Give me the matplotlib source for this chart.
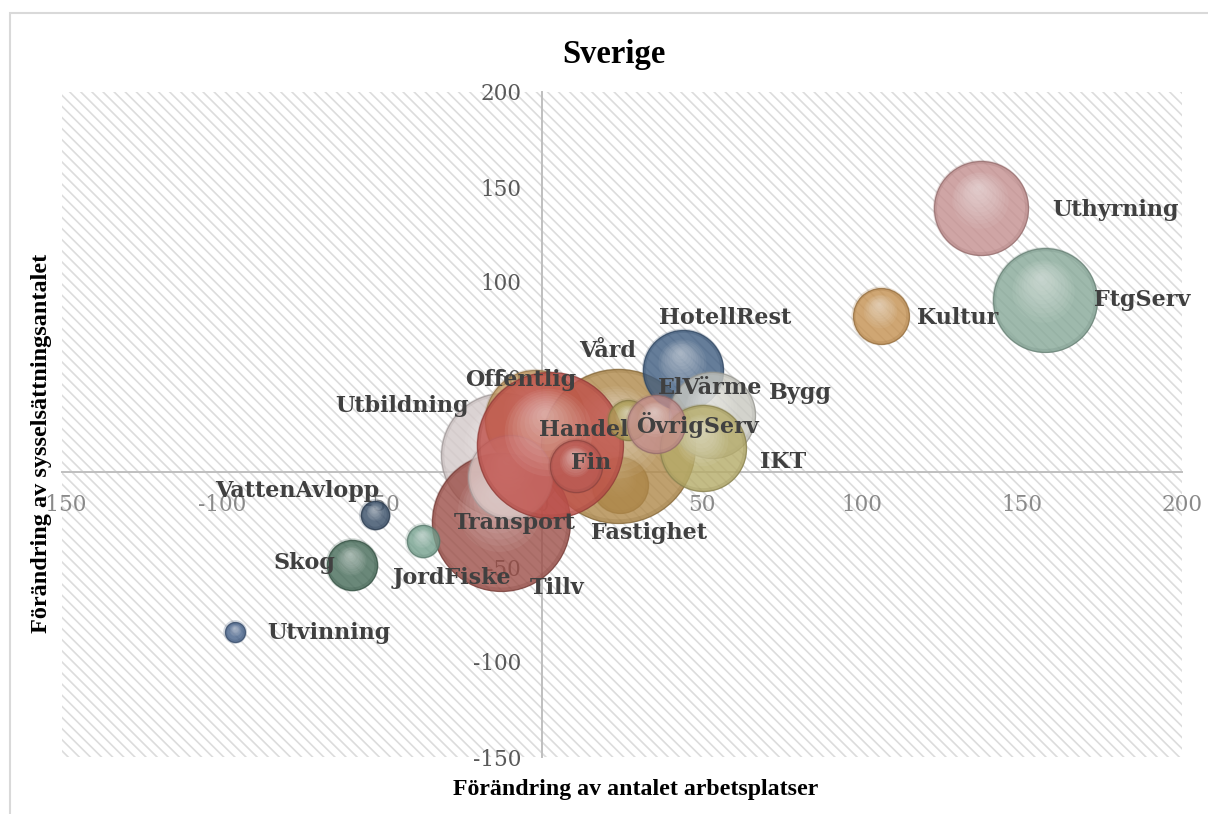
import numpy as np
import matplotlib
matplotlib.use("Agg")
import matplotlib.pyplot as plt
from matplotlib.patches import Rectangle
from matplotlib.transforms import ScaledTranslation
import matplotlib.colors as mcolors

# ---------------- data (draw order) ----------------
sectors = ["Fastighet", "Utbildning", "Offentlig", "Vård", "Tillv", "Transport",
           "Handel", "Fin", "HotellRest", "Bygg", "IKT", "ElVärme", "ÖvrigServ",
           "Uthyrning", "FtgServ", "Kultur", "JordFiske", "VattenAvlopp", "Skog",
           "Utvinning"]
x_change = [24.4, -12.2, -2.2, 23.8, -12.8, -10.0, 2.5, 10.6, 44.1, 53.1, 50.3,
            26.9, 35.6, 137.2, 157.2, 105.9, -37.2, -52.2, -59.4, -95.9]
y_change = [-6.8, 8.9, 27.4, 13.7, -26.3, -2.6, 14.2, 3.2, 53.7, 30.0, 12.6,
            27.4, 25.3, 138.9, 90.5, 82.1, -36.3, -22.6, -48.9, -84.2]
bubble_size = [78, 384, 250, 593, 476, 176, 533, 68, 160, 185, 185, 40, 84,
               221, 270, 78, 26, 20, 63, 10]
colors = ["#a07a40", "#d3c8c8", "#c49a60", "#b0894a", "#9c4f48", "#ddcbc9",
          "#c0504a", "#bb5a54", "#3e5c80", "#c8c8c0", "#b5ab68", "#ad9f58",
          "#c48e8c", "#c48f8f", "#86a898", "#c49050", "#74a08e", "#364c66",
          "#456a58", "#46628a"]
xticks = [-150, -100, -50, 0, 50, 100, 150, 200]
yticks = [-150, -100, -50, 0, 50, 100, 150, 200]

# label offsets from bubble centre (pixels: right, down)
label_offsets = {
    "Uthyrning": (134, 2), "FtgServ": (97, 0), "Kultur": (77, 2),
    "HotellRest": (42, -52), "Bygg": (88, -22), "IKT": (80, 14),
    "ElVärme": (82, -32), "ÖvrigServ": (42, 1), "Vård": (-11, -95),
    "Fastighet": (29, 48), "Handel": (34, -15), "Offentlig": (-14, -40),
    "Utbildning": (-101, -49), "Transport": (5, 46), "Tillv": (56, 66),
    "Fin": (15, -3), "JordFiske": (29, 37), "VattenAvlopp": (-78, -24),
    "Skog": (-47, -2), "Utvinning": (94, 1),
}

W, H = 1208, 814
plt.rcParams["hatch.color"] = "#dcdcdc"
plt.rcParams["hatch.linewidth"] = 1.2

fig = plt.figure(figsize=(W / 100, H / 100), dpi=100)
fig.patch.set_facecolor("white")

# outer chart frame
fig.add_artist(Rectangle((10 / W, -0.05), 1.2, 1 - 13 / H + 0.05,
                         transform=fig.transFigure, fill=False,
                         edgecolor="#d9d9d9", linewidth=1.5))

ax = fig.add_axes([62 / W, 57 / H, 1120 / W, 665 / H])
ax.set_xlim(-150, 200)
ax.set_ylim(-150, 200)
ax.patch.set_visible(False)

# hatched plot area
ax.add_patch(Rectangle((0, 0), 1, 1, transform=ax.transAxes, facecolor="white",
                       edgecolor="#dcdcdc", hatch="\\\\\\", linewidth=0, zorder=0.1))

for s in ["top", "right"]:
    ax.spines[s].set_visible(False)
for s in ["left", "bottom"]:
    ax.spines[s].set_position(("data", 0))
    ax.spines[s].set_color("#bfbfbf")
    ax.spines[s].set_linewidth(1.4)
    ax.spines[s].set_zorder(0.6)
ax.set_axisbelow(True)

ax.set_xticks(xticks)
ax.set_yticks(yticks)
ax.set_xticklabels([str(v) for v in xticks])
ax.set_yticklabels([str(v) for v in yticks])
ax.tick_params(axis="both", length=0)
ax.tick_params(axis="x", pad=16, labelsize=15.5, labelcolor="#8a8a8a")
ax.tick_params(axis="y", pad=15, labelsize=15.5, labelcolor="#595959")
for lab in ax.get_xticklabels() + ax.get_yticklabels():
    lab.set_fontfamily("DejaVu Serif")

# ---------------- bubbles ----------------
px_to_pt = 0.72
scale = 10 * (2 * px_to_pt) ** 2  # bubble_size -> points^2

def darker(c, f=0.7):
    r, g, b = mcolors.to_rgb(c)
    return (r * f, g * f, b * f)

z = 2
for name, xv, yv, sz, col in zip(sectors, x_change, y_change, bubble_size, colors):
    s = sz * scale
    r_pt = np.sqrt(s) / 2
    ax.scatter([xv], [yv], s=s, color=col, alpha=0.8,
               edgecolors=[darker(col, 0.75)], linewidths=0.9, zorder=z)
    # soft rim shading
    ax.scatter([xv], [yv], s=s * 0.96, facecolors="none",
               edgecolors=[darker(col, 0.8) + (0.22,)], linewidths=3, zorder=z + 0.01)
    hx, hy = -0.08 * r_pt, 0.45 * r_pt
    for k, f in enumerate(np.linspace(0.6, 0.06, 10)):
        off = ScaledTranslation((1 - f) * hx / 72, (1 - f) * hy / 72, fig.dpi_scale_trans)
        ax.scatter([xv], [yv], s=(2 * r_pt * f) ** 2, color="white", alpha=0.06,
                   linewidths=0, transform=ax.transData + off, zorder=z + 0.02)
    z += 0.1

# ---------------- labels ----------------
for name, xv, yv in zip(sectors, x_change, y_change):
    dx, dy = label_offsets[name]
    ax.annotate(name, (xv, yv), xytext=(dx * px_to_pt, -dy * px_to_pt),
                textcoords="offset points", ha="center", va="center",
                fontsize=16, fontweight="bold", family="DejaVu Serif",
                color="#404040", zorder=20, annotation_clip=False)

fig.text(614 / W, 1 - 54 / H, "Sverige", ha="center", va="center",
         fontsize=23.5, fontweight="bold", family="Liberation Serif", color="black")
fig.text(636 / W, 1 - 790 / H, "Förändring av antalet arbetsplatser", ha="center",
         va="center", fontsize=17.2, fontweight="bold", family="Liberation Serif",
         color="black")
fig.text(42 / W, 1 - 443 / H, "Förändring av sysselsättningsantalet", ha="center",
         va="center", rotation=90, fontsize=17.5, fontweight="bold",
         family="Liberation Serif", color="black")

fig.savefig("out.png", dpi=100, facecolor="white")
